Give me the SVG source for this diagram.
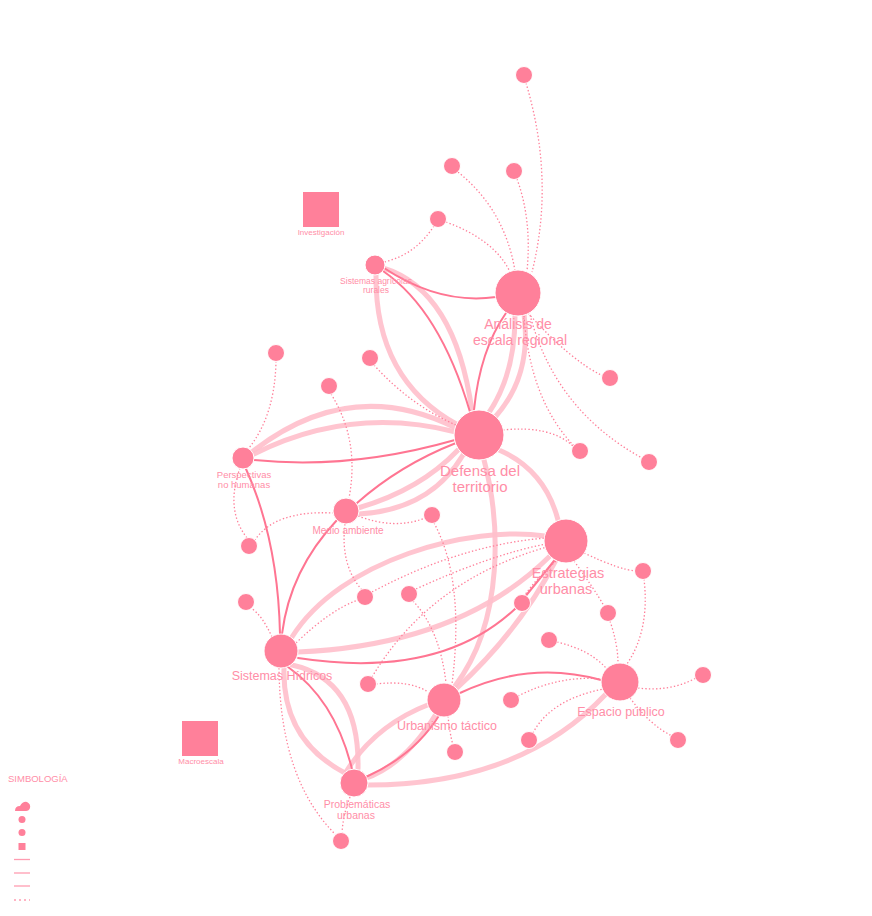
<svg xmlns="http://www.w3.org/2000/svg" width="872" height="916" viewBox="0 0 872 916">
<style>
.bg{fill:#ffffff}
.n{fill:#ff809a;stroke:#ffffff;stroke-width:1}
.sq{fill:#ff809a}
.t{fill:none;stroke:#ffbfcb;stroke-width:5;stroke-linecap:round;opacity:0.9}
.m{fill:none;stroke:#ff7592;stroke-width:2;stroke-linecap:round}
.d{fill:none;stroke:#ff7f99;stroke-width:1.3;stroke-dasharray:1.4 2.2}
.l{fill:#ff8ea7;font-family:"Liberation Sans",Arial,sans-serif;text-anchor:middle}
.big{font-size:14px}
.mid{font-size:12.5px}
.sm{font-size:10.5px}
.xxs{font-size:8px}
.lg{fill:#ff809a}
.lgl{stroke:#ff9cb1;stroke-width:1.3}
</style>
<rect class="bg" x="0" y="0" width="872" height="916"/>
<g id="connectors">
<path class="t" d="M515,316 Q515,375 488,414"/>
<path class="t" d="M524,314 Q532,375 496,416"/>
<path class="t" d="M383,268 Q455,290 472,411"/>
<path class="t" d="M376,275 Q375,380 458,425"/>
<path class="t" d="M252,452 Q350,375 456,428"/>
<path class="t" d="M252,455 Q350,405 456,432"/>
<path class="t" d="M358,508 Q420,490 458,450"/>
<path class="t" d="M359,514 Q430,510 463,455"/>
<path class="t" d="M499,450 Q545,470 558,520"/>
<path class="t" d="M484,460 C500,520 505,620 455,686"/>
<path class="t" d="M556,560 Q520,630 457,688"/>
<path class="t" d="M292,637 C340,560 470,525 545,536"/>
<path class="t" d="M298,652 Q460,645 550,556"/>
<path class="t" d="M284,668 Q282,740 345,773"/>
<path class="t" d="M292,665 Q360,680 358,769"/>
<path class="t" d="M430,704 Q375,725 346,772"/>
<path class="t" d="M436,714 Q405,765 364,779"/>
<path class="t" d="M368,785 Q520,785 606,694"/>
<path class="m" d="M384,268 Q440,305 496,297"/>
<path class="m" d="M383,271 Q440,310 470,412"/>
<path class="m" d="M506,313 Q480,350 474,410"/>
<path class="m" d="M455,440 Q350,470 254,460"/>
<path class="m" d="M456,443 Q400,465 357,503"/>
<path class="m" d="M337,520 Q290,570 282,634"/>
<path class="m" d="M246,469 Q278,540 280,634"/>
<path class="m" d="M298,658 Q440,680 516,608 L554,561"/>
<path class="m" d="M460,693 Q530,660 601,680"/>
<path class="m" d="M288,667 Q335,700 352,769"/>
<path class="m" d="M440,714 Q415,755 366,777"/>
<path class="d" d="M526,83 Q555,180 532,272"/>
<path class="d" d="M517,179 Q532,220 527,271"/>
<path class="d" d="M458,172 Q505,210 515,271"/>
<path class="d" d="M446,222 Q495,240 510,272"/>
<path class="d" d="M434,226 Q415,255 384,262"/>
<path class="d" d="M528,313 Q570,360 603,376"/>
<path class="d" d="M530,315 Q555,410 642,458"/>
<path class="d" d="M524,316 Q530,400 574,446"/>
<path class="d" d="M503,430 Q550,425 573,446"/>
<path class="d" d="M374,365 Q410,405 456,425"/>
<path class="d" d="M276,361 Q275,415 249,448"/>
<path class="d" d="M331,394 Q360,440 349,498"/>
<path class="d" d="M240,468 Q225,510 247,538"/>
<path class="d" d="M334,513 Q275,510 255,540"/>
<path class="d" d="M358,516 Q395,530 425,518"/>
<path class="d" d="M345,524 Q340,565 362,590"/>
<path class="d" d="M434,523 Q465,580 452,684"/>
<path class="d" d="M372,592 Q460,545 546,538"/>
<path class="d" d="M416,589 Q490,555 546,544"/>
<path class="d" d="M372,677 Q430,580 547,547"/>
<path class="d" d="M296,643 Q330,610 358,600"/>
<path class="d" d="M413,601 Q440,630 446,683"/>
<path class="d" d="M376,684 Q410,680 428,692"/>
<path class="d" d="M448,716 Q450,735 453,745"/>
<path class="d" d="M272,637 Q262,615 251,608"/>
<path class="d" d="M279,668 Q280,780 336,835"/>
<path class="d" d="M350,797 Q343,815 342,833"/>
<path class="d" d="M556,561 Q535,580 525,595"/>
<path class="d" d="M584,553 Q620,570 636,571"/>
<path class="d" d="M574,561 Q595,590 604,606"/>
<path class="d" d="M610,621 Q618,645 618,663"/>
<path class="d" d="M644,579 Q650,630 627,664"/>
<path class="d" d="M557,642 Q590,650 606,668"/>
<path class="d" d="M638,688 Q670,692 696,678"/>
<path class="d" d="M630,698 Q650,725 672,736"/>
<path class="d" d="M518,696 Q560,675 601,679"/>
<path class="d" d="M533,733 Q550,700 603,689"/>
</g>
<g id="n-analisis"><circle class="n" cx="518" cy="293" r="23"/><text class="l big" x="518" y="329">Análisis de</text><text class="l big" x="520" y="345">escala regional</text></g>
<g id="n-defensa"><circle class="n" cx="479" cy="435" r="25"/><text class="l" x="480" y="476" style="font-size:15px">Defensa del</text><text class="l" x="480" y="492" style="font-size:15px">territorio</text></g>
<g id="n-estrategias"><circle class="n" cx="566" cy="541" r="22"/><text class="l" x="568" y="578" style="font-size:14.5px">Estrategias</text><text class="l" x="566" y="594" style="font-size:14.5px">urbanas</text></g>
<g id="n-espacio"><circle class="n" cx="620" cy="682" r="19"/><text class="l mid" x="621" y="716">Espacio público</text></g>
<g id="n-hidricos"><circle class="n" cx="281" cy="651" r="17"/><text class="l mid" x="282" y="680">Sistemas Hídricos</text></g>
<g id="n-urbanismo"><circle class="n" cx="444" cy="700" r="17"/><text class="l mid" x="447" y="730">Urbanismo táctico</text></g>
<g id="n-problematicas"><circle class="n" cx="354" cy="783" r="14"/><text class="l sm" x="357" y="808">Problemáticas</text><text class="l sm" x="356" y="819">urbanas</text></g>
<g id="n-medio"><circle class="n" cx="346" cy="511" r="13"/><text class="l" x="348" y="534" style="font-size:10px">Medio ambiente</text></g>
<g id="n-perspectivas"><circle class="n" cx="243" cy="458" r="11"/><text class="l" x="244" y="478" style="font-size:9.5px">Perspectivas</text><text class="l" x="244" y="488" style="font-size:9.5px">no humanas</text></g>
<g id="n-agricolas"><circle class="n" cx="375" cy="265" r="10"/><text class="l" x="376" y="284" style="font-size:8.5px">Sistemas agrícolas</text><text class="l" x="376" y="293" style="font-size:8.5px">rurales</text></g>
<g id="n-s1"><circle class="n" cx="524" cy="75" r="8.5"/></g>
<g id="n-s2"><circle class="n" cx="452" cy="166" r="8.5"/></g>
<g id="n-s3"><circle class="n" cx="514" cy="171" r="8.5"/></g>
<g id="n-s4"><circle class="n" cx="438" cy="219" r="8.5"/></g>
<g id="n-s5"><circle class="n" cx="610" cy="378" r="8.5"/></g>
<g id="n-s6"><circle class="n" cx="580" cy="451" r="8.5"/></g>
<g id="n-s7"><circle class="n" cx="649" cy="462" r="8.5"/></g>
<g id="n-s8"><circle class="n" cx="276" cy="353" r="8.5"/></g>
<g id="n-s9"><circle class="n" cx="370" cy="358" r="8.5"/></g>
<g id="n-s10"><circle class="n" cx="329" cy="386" r="8.5"/></g>
<g id="n-s11"><circle class="n" cx="432" cy="515" r="8.5"/></g>
<g id="n-s12"><circle class="n" cx="249" cy="546" r="8.5"/></g>
<g id="n-s13"><circle class="n" cx="246" cy="602" r="8.5"/></g>
<g id="n-s14"><circle class="n" cx="365" cy="597" r="8.5"/></g>
<g id="n-s15"><circle class="n" cx="409" cy="594" r="8.5"/></g>
<g id="n-s16"><circle class="n" cx="522" cy="603" r="8.5"/></g>
<g id="n-s17"><circle class="n" cx="549" cy="640" r="8.5"/></g>
<g id="n-s18"><circle class="n" cx="608" cy="613" r="8.5"/></g>
<g id="n-s19"><circle class="n" cx="643" cy="571" r="8.5"/></g>
<g id="n-s20"><circle class="n" cx="368" cy="684" r="8.5"/></g>
<g id="n-s21"><circle class="n" cx="511" cy="700" r="8.5"/></g>
<g id="n-s22"><circle class="n" cx="455" cy="752" r="8.5"/></g>
<g id="n-s23"><circle class="n" cx="529" cy="740" r="8.5"/></g>
<g id="n-s24"><circle class="n" cx="703" cy="675" r="8.5"/></g>
<g id="n-s25"><circle class="n" cx="678" cy="740" r="8.5"/></g>
<g id="n-s26"><circle class="n" cx="341" cy="841" r="8.5"/></g>
<g id="n-investigacion"><rect class="sq" x="303" y="192" width="36" height="35"/><text class="l xxs" x="321" y="235">Investigación</text></g>
<g id="n-macroescala"><rect class="sq" x="182" y="721" width="36" height="35"/><text class="l xxs" x="201" y="764">Macroescala</text></g>
<g id="legend">
<text x="8" y="782" style="fill:#ff8ea7;font-family:'Liberation Sans',Arial,sans-serif;font-size:9.5px">SIMBOLOGÍA</text>
<path class="lg" d="M15,811 Q15,806 20,806 Q23,801 27,802 Q31,804 30,808 Q29,811 26,811 Z"/>
<circle class="lg" cx="22" cy="819.5" r="3.5"/>
<circle class="lg" cx="22" cy="832.5" r="3.5"/>
<rect class="lg" x="18.5" y="843" width="7" height="7"/>
<line class="lgl" x1="14" y1="859.5" x2="30" y2="859.5"/>
<line class="lgl" x1="14" y1="873" x2="30" y2="873"/>
<line class="lgl" x1="14" y1="886" x2="30" y2="886"/>
<line class="lgl" x1="14" y1="900" x2="30" y2="900" style="stroke-dasharray:2 3"/>
</g>
</svg>
